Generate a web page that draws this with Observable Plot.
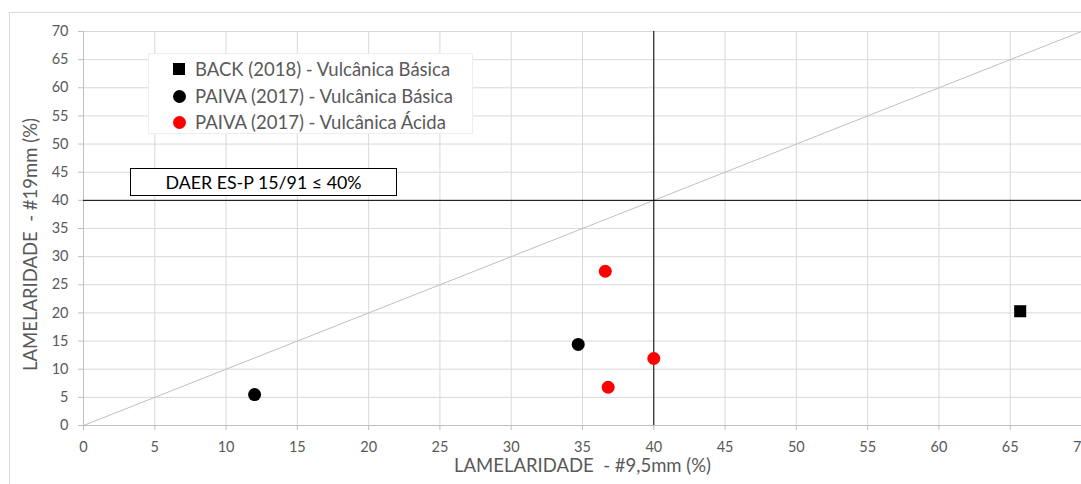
<!DOCTYPE html>
<html>
<head>
<meta charset="utf-8">
<script src="https://cdn.jsdelivr.net/npm/d3@7"></script>
<script src="https://cdn.jsdelivr.net/npm/@observablehq/plot@0.6"></script>
<style>
  html, body { margin: 0; padding: 0; overflow: hidden; background: #fff; }
  #wrap { position: relative; width: 1081px; height: 484px; font-family: Lato, "Open Sans", sans-serif; }
  #frame { position: absolute; left: 9px; top: 12px; width: 1200px; height: 600px; border: 1px solid #d9d9d9; box-sizing: border-box; }
  #chart { position: absolute; left: 0; top: 0; }
  #chart svg text { white-space: pre; }
  #legend { position: absolute; left: 148px; top: 53px; width: 325px; height: 81px; background: #fff; border: 1px solid #eeeeee; box-sizing: border-box; }
  .row { position: absolute; left: 0; height: 22px; line-height: 22px; font-size: 18.5px; color: #595959; white-space: nowrap; }
  .row .lbl { position: absolute; left: 46px; top: 0; }
  .mk { position: absolute; top: 5px; left: 24px; width: 12px; height: 12px; }
  #daer { position: absolute; left: 130px; top: 168px; width: 267px; height: 28px; background: #fff; border: 1px solid #000; box-sizing: border-box; font-size: 17.8px; line-height: 26px; text-align: center; color: #000; }
</style>
</head>
<body>
<div id="wrap">
  <div id="frame"></div>
  <div id="chart"></div>
  <div id="legend"></div>
  <div id="daer"></div>
</div>
<script>
// ---- data ----
const ticks = [0, 5, 10, 15, 20, 25, 30, 35, 40, 45, 50, 55, 60, 65, 70];
const backX = [65.7];
const backY = [20.3];
const paivaBasicaX = [12.0, 34.7];
const paivaBasicaY = [5.5, 14.4];
const paivaAcidaX = [36.6, 40.0, 36.8];
const paivaAcidaY = [27.4, 11.9, 6.8];
const limitX = [40];
const limitY = [40];
const diagonal = [0, 70];
const seriesNames = ["BACK (2018) - Vulcânica Básica", "PAIVA (2017) - Vulcânica Básica", "PAIVA (2017) - Vulcânica Ácida"];
const seriesColors = ["#000000", "#000000", "#ff0000"];
const seriesShapes = ["square", "circle", "circle"];
const xLabel = "LAMELARIDADE  - #9,5mm (%)";
const yLabel = "LAMELARIDADE  - #19mm (%)";
const daerText = "DAER ES-P 15/91 ≤ 40%";

const toPts = (xs, ys) => xs.map((x, i) => ({x, y: ys[i]}));

const chart = Plot.plot({
  width: 1081,
  height: 484,
  marginLeft: 83,
  marginRight: 0,
  marginTop: 31,
  marginBottom: 59,
  style: {fontFamily: "Lato, 'Open Sans', sans-serif", color: "#595959", background: "transparent", overflow: "visible"},
  x: {domain: [0, 70], ticks},
  y: {domain: [0, 70], ticks},
  marks: [
    Plot.gridX(ticks, {stroke: "#d9d9d9", strokeOpacity: 1}),
    Plot.gridY(ticks, {stroke: "#d9d9d9", strokeOpacity: 1}),
    Plot.ruleY([0], {stroke: "#bfbfbf"}),
    Plot.ruleX([0], {stroke: "#bfbfbf"}),
    Plot.axisX({ticks, tickSize: 5, tickPadding: 11, fontSize: 14.5, stroke: "#bfbfbf", fill: "#595959", label: null}),
    Plot.axisY({ticks, tickSize: 5, tickPadding: 10, fontSize: 14.5, stroke: "#bfbfbf", fill: "#595959", label: null}),
    Plot.line(diagonal, {x: d => d, y: d => d, stroke: "#bfbfbf", strokeWidth: 1}),
    Plot.ruleX(limitX, {stroke: "#000", strokeWidth: 1}),
    Plot.ruleY(limitY, {stroke: "#000", strokeWidth: 1}),
    Plot.dot(toPts(paivaBasicaX, paivaBasicaY), {x: "x", y: "y", r: 6.5, fill: seriesColors[1], stroke: null, symbol: "circle"}),
    Plot.dot(toPts(paivaAcidaX, paivaAcidaY), {x: "x", y: "y", r: 6.5, fill: seriesColors[2], stroke: null, symbol: "circle"}),
    Plot.dot(toPts(backX, backY), {x: "x", y: "y", r: 6.8, fill: seriesColors[0], stroke: null, symbol: "square"}),
    Plot.text([xLabel], {frameAnchor: "bottom", textAnchor: "middle", dy: 46, fontSize: 18.5, fill: "#595959"}),
    Plot.text([yLabel], {frameAnchor: "left", textAnchor: "middle", rotate: -90, dx: -52, dy: 16, fontSize: 18.5, fill: "#595959"})
  ]
});
document.getElementById("chart").appendChild(chart);

// legend
const legend = document.getElementById("legend");
seriesNames.forEach((name, i) => {
  const row = document.createElement("div");
  row.className = "row";
  row.style.top = (4 + i * 26.5) + "px";
  const mk = document.createElement("span");
  mk.className = "mk";
  mk.style.background = seriesColors[i];
  if (seriesShapes[i] === "circle") { mk.style.borderRadius = "50%"; mk.style.width = "13px"; mk.style.height = "13px"; }
  const lbl = document.createElement("span");
  lbl.className = "lbl";
  lbl.textContent = name;
  row.appendChild(mk);
  row.appendChild(lbl);
  legend.appendChild(row);
});
document.getElementById("daer").textContent = daerText;
</script>
</body>
</html>
